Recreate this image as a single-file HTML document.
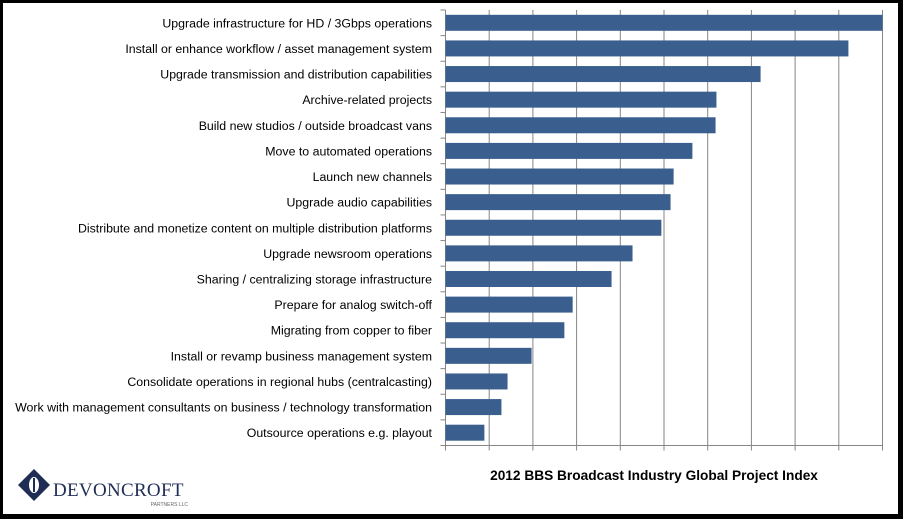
<!DOCTYPE html>
<html><head><meta charset="utf-8"><style>
body{margin:0;background:#000;}
#wrap{position:absolute;left:3px;top:3px;width:895px;height:511px;background:#fff;overflow:hidden}
svg{position:absolute;left:0;top:0}
text{font-family:"Liberation Sans",sans-serif}
</style></head><body>
<div id="wrap">
<svg id="c" width="903" height="519" viewBox="3 3 903 519"></svg>
</div>
<script>
const categories=["Upgrade infrastructure for HD / 3Gbps operations","Install or enhance workflow / asset management system","Upgrade transmission and distribution capabilities","Archive-related projects","Build new studios / outside broadcast vans","Move to automated operations","Launch new channels","Upgrade audio capabilities","Distribute and monetize content on multiple distribution platforms","Upgrade newsroom operations","Sharing / centralizing storage infrastructure","Prepare for analog switch-off","Migrating from copper to fiber","Install or revamp business management system","Consolidate operations in regional hubs (centralcasting)","Work with management consultants on business / technology transformation","Outsource operations e.g. playout"];
const values=[10,9.22,7.21,6.2,6.18,5.65,5.22,5.15,4.94,4.28,3.8,2.91,2.72,1.97,1.42,1.28,0.89];
const ticks=[0,1,2,3,4,5,6,7,8,9,10];
const NS="http://www.w3.org/2000/svg";
const svg=document.getElementById('c');
const x0=445.5,x1=882.5,y0=10,y1=445.5;
const xs=v=>x0+(x1-x0)*v/10;
const band=(y1-y0)/categories.length;
function mk(t,a){const e=document.createElementNS(NS,t);for(const k in a)e.setAttribute(k,a[k]);svg.appendChild(e);return e;}
ticks.forEach(t=>{
 const g=mk('line',{x1:xs(t),x2:xs(t),y1:y0,y2:y1+5,stroke:'#868686','stroke-width':1});
 
 
});
for(let i=0;i<=categories.length;i++){
 const l=mk('line',{x1:x0-5,x2:x0,y1:y0+band*i,y2:y0+band*i,stroke:'#868686'});
 
 
}
const ax=mk('line',{x1:x0,x2:x0,y1:y0,y2:y1,stroke:'#868686'});


const bx=mk('line',{x1:x0,x2:x1,y1:y1,y2:y1,stroke:'#868686'});


categories.forEach((c,i)=>{
 const yc=y0+band*(i+0.5);
 const r=mk('rect',{x:x0,y:yc-8,width:xs(values[i])-x0,height:16,fill:'#3A5F8E'});
 
 
 const t=mk('text',{x:432,y:yc+4.5,'text-anchor':'end','font-size':12.35,fill:'#000'});
 t.textContent=c;
 
 
});
const ti=mk('text',{x:654,y:480,'text-anchor':'middle','font-size':13.7,'font-weight':'bold',fill:'#000'});
ti.textContent="2012 BBS Broadcast Industry Global Project Index";


// logo
const lg=mk('g',{});


mk('polygon',{points:'34,469 50,485 34,501 18,485',fill:'#1f2d55'});
mk('ellipse',{cx:34,cy:485,rx:5,ry:8,fill:'#fff'});
mk('rect',{x:33,y:478,width:2,height:14,fill:'#1f2d55'});
const lt=mk('text',{x:53,y:496,'font-size':19,fill:'#1f2d55'});
lt.setAttribute('style','font-family:"Liberation Serif",serif;letter-spacing:0.3px');
lt.textContent="DEVONCROFT";
const ls=mk('text',{x:188,y:506,'font-size':5,fill:'#666','text-anchor':'end'});
ls.textContent="PARTNERS LLC";
</script>
</body></html>
